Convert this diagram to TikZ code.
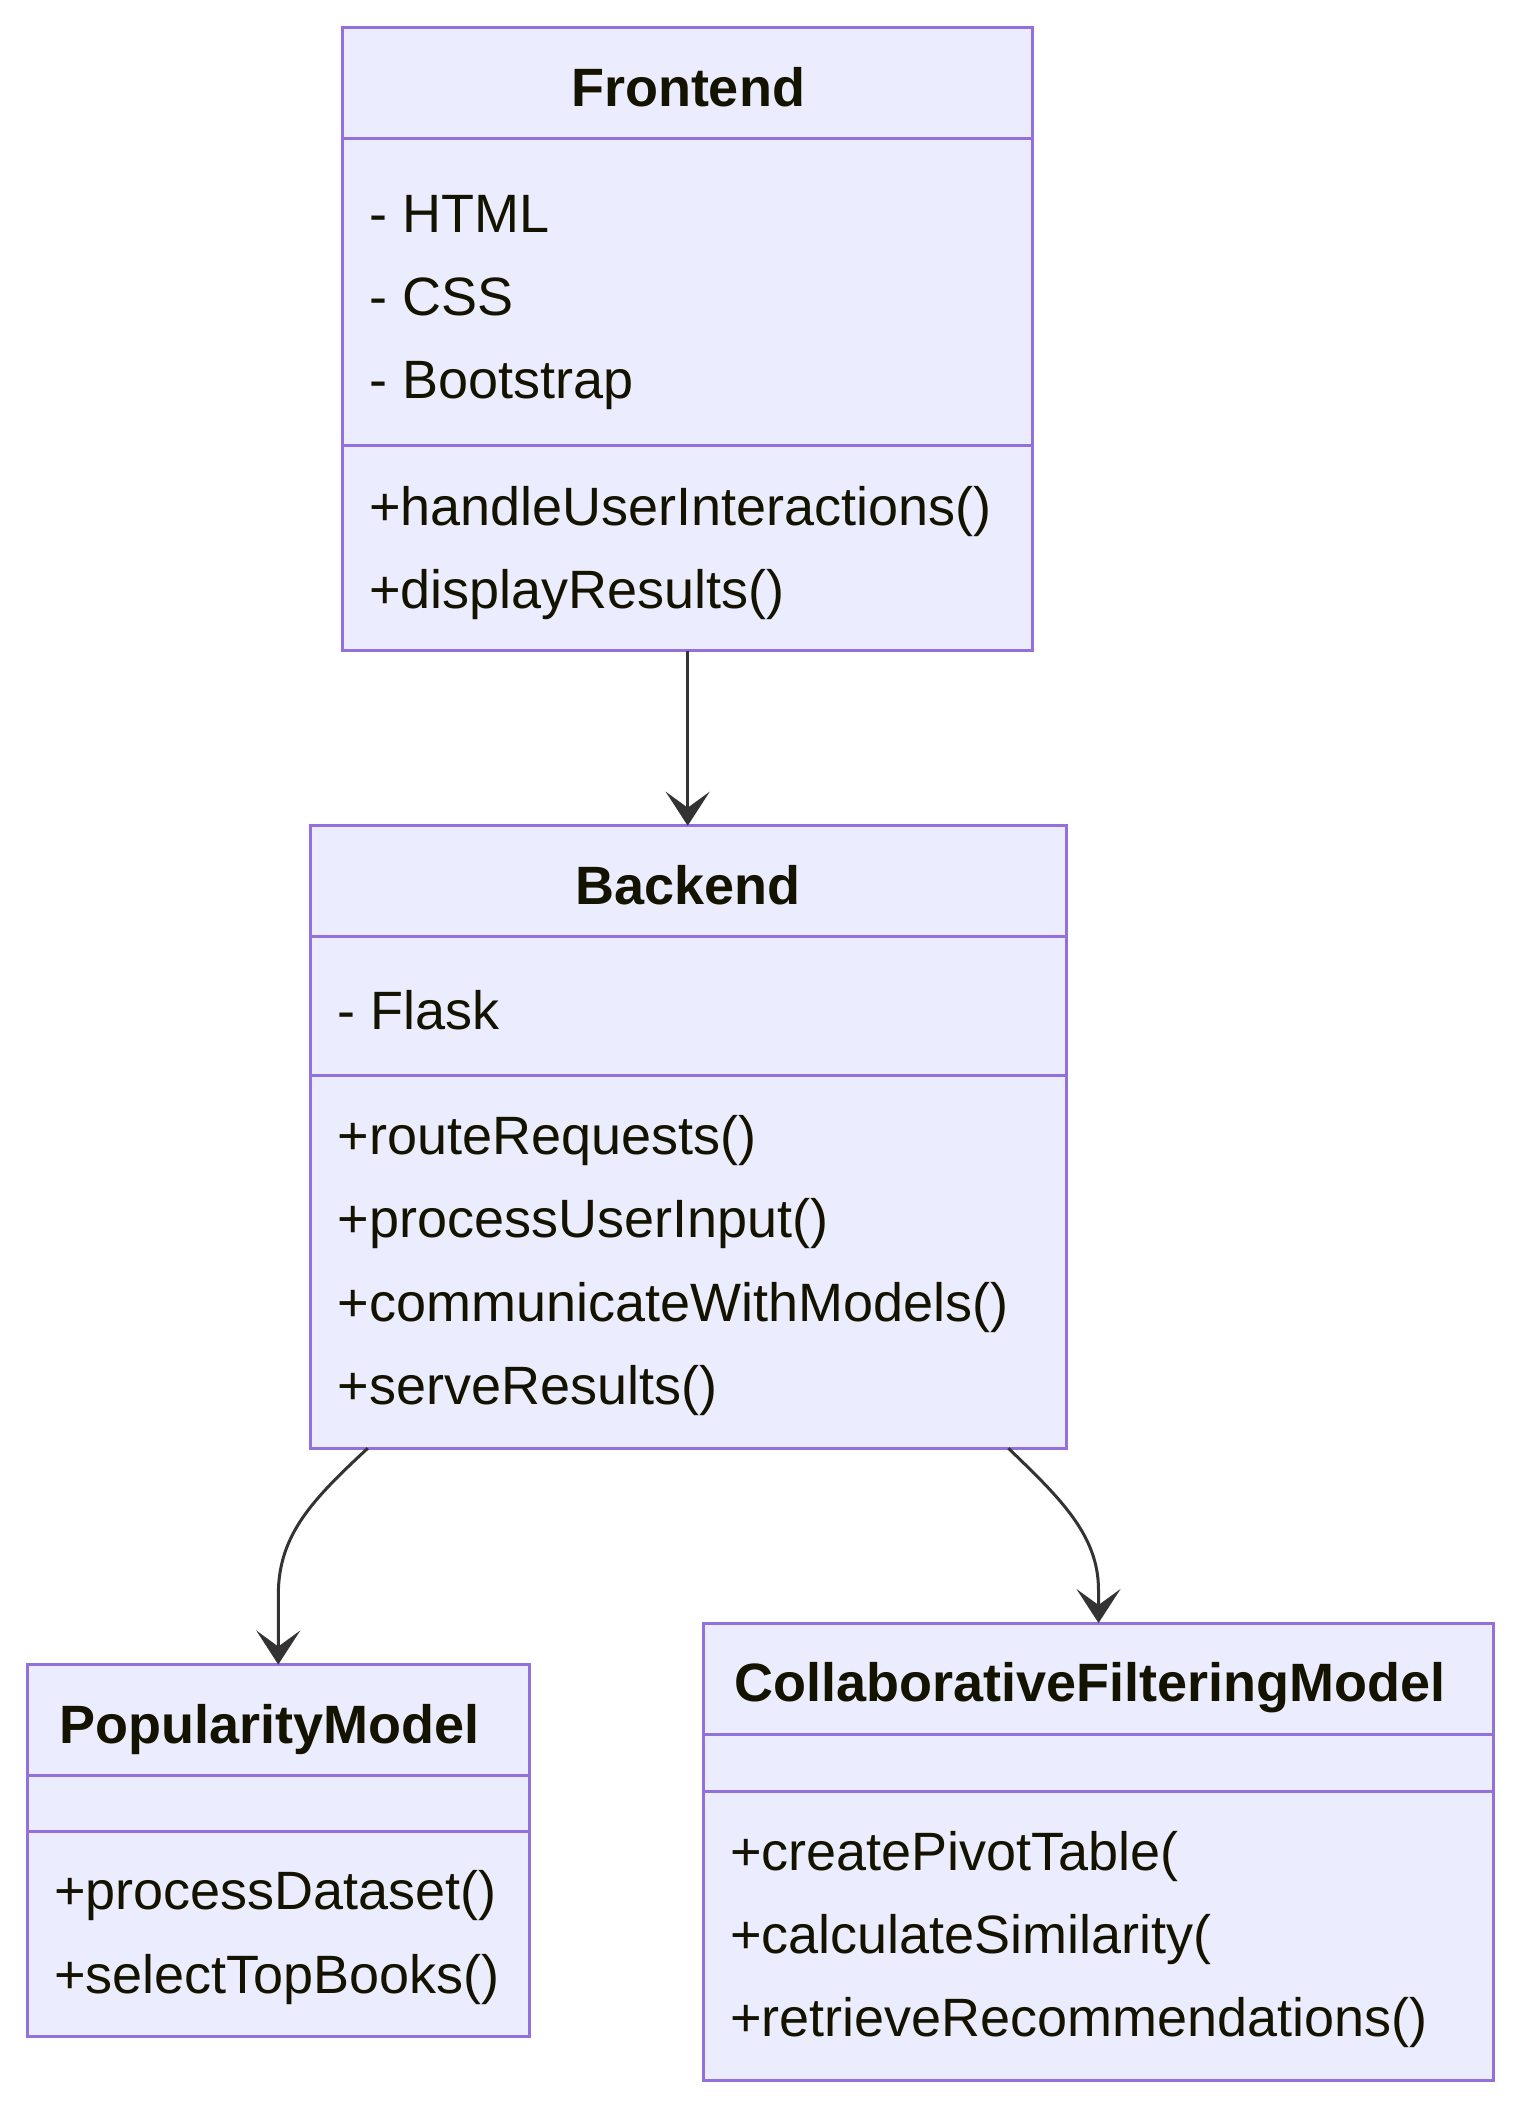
\documentclass[tikz,border=0pt]{standalone}
\usepackage{fontspec}
\setmainfont{Liberation Sans}
\usetikzlibrary{arrows.meta}
\definecolor{clsfill}{HTML}{ECECFF}
\definecolor{clsline}{HTML}{9370DB}
\definecolor{txt}{HTML}{131300}
\definecolor{edgec}{HTML}{333333}
\newcommand{\dfont}{\fontsize{54}{64}\selectfont}
\begin{document}
\begin{tikzpicture}[x=1pt,y=-1pt,
  clsbox/.style={draw=clsline, fill=clsfill, line width=3pt, inner sep=0pt, outer sep=0pt, anchor=north west},
  divider/.style={draw=clsline, line width=3pt},
  ttl/.style={font=\dfont\bfseries, text=txt, inner sep=0pt, anchor=base},
  mem/.style={font=\dfont, text=txt, inner sep=0pt, anchor=base west},
  edge/.style={draw=edgec, line width=3pt, -{Stealth[length=34pt,width=44pt,inset=16pt]}}
]
\useasboundingbox (0,0) rectangle (1519,2107);

% Frontend
\node[clsbox, minimum width=690pt, minimum height=623.7pt] (fe) at (342.7,27) {};
\draw[divider] (fe.west |- 0,138.3) -- (fe.east |- 0,138.3);
\draw[divider] (fe.west |- 0,445.7) -- (fe.east |- 0,445.7);
\node[ttl] (fet) at (688,106.7) {Frontend};
\node[mem] (fea1) at (369,232.3) {- HTML};
\node[mem] (fea2) at (369,315.3) {- CSS};
\node[mem] (fea3) at (369,398.3) {- Bootstrap};
\node[mem] (fem1) at (369,525) {+handleUserInteractions()};
\node[mem] (fem2) at (369,608) {+displayResults()};

% Backend
\node[clsbox, minimum width=755.6pt, minimum height=622.5pt] (be) at (310.4,825.7) {};
\draw[divider] (be.west |- 0,936.8) -- (be.east |- 0,936.8);
\draw[divider] (be.west |- 0,1075.7) -- (be.east |- 0,1075.7);
\node[ttl] (bet) at (688,904) {Backend};
\node[mem] (bea1) at (337.5,1029.3) {- Flask};
\node[mem] (bem1) at (337.5,1154.3) {+routeRequests()};
\node[mem] (bem2) at (337.5,1237.5) {+processUserInput()};
\node[mem] (bem3) at (337.5,1321) {+communicateWithModels()};
\node[mem] (bem4) at (337.5,1404.3) {+serveResults()};

% PopularityModel
\node[clsbox, minimum width=502.5pt, minimum height=372pt] (pm) at (27,1664.5) {};
\draw[divider] (pm.west |- 0,1775.3) -- (pm.east |- 0,1775.3);
\draw[divider] (pm.west |- 0,1831.5) -- (pm.east |- 0,1831.5);
\node[ttl] (pmt) at (269.5,1743.7) {PopularityModel};
\node[mem] (pmm1) at (54,1909.5) {+processDataset()};
\node[mem] (pmm2) at (54,1993) {+selectTopBooks()};

% CollaborativeFilteringModel
\node[clsbox, minimum width=790.5pt, minimum height=457.5pt] (cf) at (703.3,1623) {};
\draw[divider] (cf.west |- 0,1734.5) -- (cf.east |- 0,1734.5);
\draw[divider] (cf.west |- 0,1791) -- (cf.east |- 0,1791);
\node[ttl] (cft) at (1090,1701.7) {CollaborativeFilteringModel};
\node[mem] (cfm1) at (730,1870) {+createPivotTable(};
\node[mem] (cfm2) at (730,1953.3) {+calculateSimilarity(};
\node[mem] (cfm3) at (730,2036.6) {+retrieveRecommendations()};

% Connectors
\draw[edge] (fe.south) -- (fe.south |- be.north);
\draw[edge] ([xshift=57.4pt]be.south west) .. controls (312,1500) and (278.3,1535) .. (278.3,1595) -- (pm.north);
\draw[edge] ([xshift=-57.7pt]be.south east) .. controls (1060,1498) and (1098.5,1535) .. (1098.5,1590) -- (cf.north);
\end{tikzpicture}
\end{document}
